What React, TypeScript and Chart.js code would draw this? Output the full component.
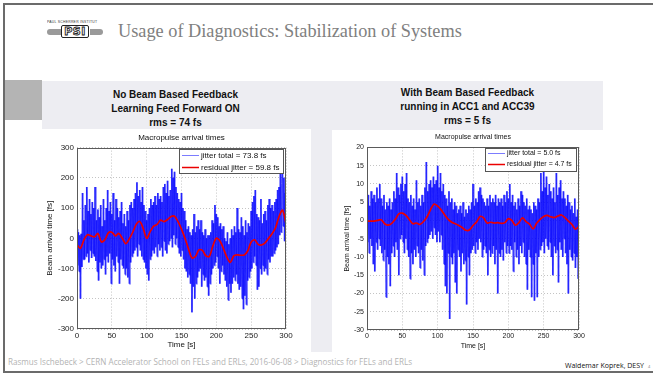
import React, { useEffect, useRef } from "react";
import { Chart, registerables } from "chart.js";

Chart.register(...registerables);

// ---------- data ----------
const SAMPLE_STEP_S = 1; // blue trace: one reading per second
const RED_STEP_S = 5; // red trace: one reading per 5 s

const leftRed = [
  -22, -33, -5, 12, 8, 5, 16, -12, -5, 18, 20, 8, 16, 0, -18, -2, 20, 46, 56, 33,
  0, 22, 40, 46, 60, 55, 62, 72, 73, 55, 30, 0, -35, -65, -60, -38, -40, -58, -60, -25,
  0, -8, -33, -62, -80, -58, -55, -56, -55, -42, -12, -5, -20, -22, -15, 0, 15, 35, 72, 93,
  48,
];

const leftBlue = [
  30, -90, 20, -110, 10, -200, 15, -95, 150, -70,
  60, -70, 110, -60, 170, -50, 90, -80, 130, -40,
  80, -65, 120, -50, 100, -60, 170, -75, 60, -110,
  95, -140, 70, -80, 110, -100, 40, -90, 130, -70,
  60, -120, 100, -60, 160, -80, 90, -50, 120, -150,
  80, -70, 150, -90, 60, -110, 130, -60, 100, -80,
  70, -150, 90, -70, 120, -90, 50, -100, 80, -120,
  40, -100, 90, -130, 60, -150, 110, -80, 120, -60,
  100, -50, 130, -40, 150, -30, 185, -60, 140, -20,
  160, -40, 120, -60, 170, -70, 110, -80, 90, -100,
  60, -120, 80, -140, 100, -70, 130, -60, 110, -40,
  120, -50, 140, -30, 110, -60, 150, -20, 130, -40,
  140, -30, 120, -60, 170, -10, 180, -40, 150, -50,
  190, -20, 140, -10, 160, 0, 230, -30, 200, 10,
  220, -20, 170, 0, 150, -30, 130, -50, 120, -60,
  150, -40, 100, -70, 90, -100, 60, -110, 30, -130,
  40, -120, 20, -150, 10, -245, 30, -160, 80, -200,
  20, -150, 40, -130, 60, -110, 30, -100, 60, -160,
  20, -120, 10, -140, 30, -130, 0, -160, 10, -190,
  10, -150, 20, -120, 60, -100, 50, -90, 110, -80,
  80, -60, 70, -100, 40, -150, 50, -110, 30, -90,
  40, -120, 0, -140, -10, -160, 20, -205, -20, -150,
  0, -180, 30, -150, 10, -130, 40, -140, 20, -120,
  100, -150, 30, -170, 20, -160, 70, -200, 40, -235,
  10, -190, 60, -220, 20, -140, 50, -130, 40, -110,
  90, -100, 120, -80, 140, -60, 160, -90, 80, -170,
  70, -160, 60, -100, 130, -120, 50, -90, 80, -110,
  90, -100, 60, -120, 110, -70, 130, -80, 100, -60,
  110, -60, 90, -50, 120, -40, 130, -30, 160, -20,
  170, 10, 230, 20, 180, 245, 40, 200, -10, 150,
  60,
];

const rightRed = [
  -0.2, -0.2, -0.2, 0, 0.2, -0.9, -1.3, -0.8, 0.3, 1.8, 2.0, 1.4, 0.2, -0.9, -0.7, -1.1, -0.3, 1.0, 3.0, 4.5,
  3.9, 2.9, 1.5, 0.3, -0.5, -0.9, -1.4, -2.0, -2.7, -2.6, -1.4, -0.4, 1.1, 0.7, -0.7, -0.5, -0.7, -0.6, -0.8, -0.6,
  0.5, 0.0, -1.3, -0.6, 0.7, -0.3, -1.0, -2.3, -0.8, 0.3, 1.1, 1.4, 1.0, 0.8, 1.2, 1.5, 0.8, -0.2, -1.1, -2.4,
  -1.6,
];

const rightBlue = [
  5, -6, 7, -9, 4, -5, 8, -7, 6, -12,
  7, -14, 5, -6, 9, -8, 6, -5, 10, -7,
  6, -9, 4, -11, 7, -8, 3, -21, 5, -10,
  4, -12, 6, -18, 3, -9, 5, -7, 8, -10,
  6, -6, 13, -8, 9, -15, 7, -5, 10, -4,
  12, -6, 8, -9, 10, -5, 13, -8, 6, -10,
  5, -16, 7, -9, 4, -12, 6, -8, 3, -10,
  11, -7, 5, -9, 6, -13, 4, -8, 7, -11,
  5, -15, 9, -7, 16, -6, 8, -5, 10, -4,
  11, -3, 9, -5, 12, -2, 10, -4, 11, -6,
  15, -3, 9, -6, 13, -4, 8, -8, 10, -12,
  7, -18, 6, -20, 4, -9, 8, -27, 5, -10,
  6, -12, 3, -9, 5, -17, 4, -20, 2, -8,
  3, -10, 4, -14, 2, -9, 5, -12, 1, -11,
  3, -23, 2, -10, 4, -15, 3, -9, 5, -8,
  10, -7, 4, -9, 6, -6, 5, -8, 8, -5,
  9, -6, 7, -10, 6, -8, 5, -7, 4, -9,
  6, -15, 4, -8, 7, -10, 5, -9, 6, -7,
  5, -12, 7, -8, 4, -20, 6, -9, 5, -10,
  6, -8, 4, -11, 7, -6, 5, -9, 8, -7,
  6, -9, 10, -7, 5, -8, 7, -14, 4, -6,
  5, -10, 3, -8, 6, -12, 4, -7, 8, -9,
  7, -6, 5, -10, 4, -12, 6, -19, 3, -8,
  4, -10, 3, -21, 2, -12, 5, -22, 4, -9,
  3, -21, 6, -10, 5, -8, 13, -7, 8, -6,
  14, -9, 9, -5, 12, -7, 7, -8, 10, -6,
  8, -10, 6, -15, 9, -7, 5, -9, 13, -8,
  7, -17, 9, -6, 11, -8, 6, -10, 8, -5,
  6, -9, 4, -12, 7, -20, 5, -8, 3, -10,
  4, -11, 2, -9, 6, -13, 1, -10, 3, -16,
  -2,
];

const leftLegend = ["jitter total = 73.8 fs", "residual jitter = 59.8 fs"];
const rightLegend = ["jitter total = 5.0 fs", "residual jitter = 4.7 fs"];

const leftHeader = ["No Beam Based Feedback", "Learning Feed Forward ON", "rms = 74 fs"];
const rightHeader = ["With Beam Based Feedback", "running in ACC1 and ACC39", "rms = 5 fs"];

// ---------- chart helpers ----------
const frameLegendPlugin = {
  id: "frameLegend",
  afterDatasetsDraw(chart: any, _args: any, opts: any) {
    const { ctx, chartArea: a } = chart;
    ctx.save();
    ctx.strokeStyle = "#5a5a5a";
    ctx.lineWidth = 1;
    ctx.setLineDash([]);
    ctx.strokeRect(Math.round(a.left) + 0.5, Math.round(a.top) + 0.5, Math.round(a.width) - 1, Math.round(a.height) - 1);
    const fs = opts.fontSize;
    ctx.font = `${fs}px Arial, "Liberation Sans", sans-serif`;
    const ds = chart.data.datasets;
    const labels = ds.map((d: any) => d.label);
    const tw = Math.max(...labels.map((l: string) => ctx.measureText(l).width));
    const sample = 17;
    const w = Math.round(3 + sample + 2 + tw + 4);
    const h = opts.boxH;
    const x0 = Math.round(a.right) - 3 - w;
    const y0 = Math.round(a.top) + 1;
    ctx.fillStyle = "#fff";
    ctx.fillRect(x0, y0, w, h);
    ctx.strokeStyle = "#555";
    ctx.strokeRect(x0 + 0.5, y0 + 0.5, w, h);
    ds.forEach((d: any, i: number) => {
      const y = y0 + opts.rows[i];
      ctx.strokeStyle = d.legendColor;
      ctx.lineWidth = d.legendWidth;
      ctx.beginPath();
      ctx.moveTo(x0 + 3, y + 0.5);
      ctx.lineTo(x0 + 3 + sample, y + 0.5);
      ctx.stroke();
      ctx.fillStyle = "#111";
      ctx.textBaseline = "middle";
      ctx.textAlign = "left";
      ctx.fillText(d.label, x0 + 3 + sample + 2, y + 0.5);
    });
    ctx.restore();
  },
};

type Cfg = {
  red: number[];
  blue: number[];
  legend: string[];
  yMin: number;
  yMax: number;
  yStep: number;
  font: number;
  yAxisW: number;
  xAxisH: number;
  yTitlePad: number;
  xTitlePad: number;
  titlePad: { top: number; bottom: number };
  boxH: number;
  rows: number[];
};

function PlotCanvas({ cfg, left, top, width, height }: { cfg: Cfg; left: number; top: number; width: number; height: number }) {
  const ref = useRef<HTMLCanvasElement | null>(null);
  useEffect(() => {
    const canvas = ref.current;
    if (!canvas) return;
    const blueData = cfg.blue.map((y, i) => ({ x: i * SAMPLE_STEP_S, y }));
    const redData = cfg.red.map((y, i) => ({ x: i * RED_STEP_S, y }));
    const font = { family: 'Arial, "Liberation Sans", sans-serif', size: cfg.font };
    const blueA = "rgba(0,0,255,0.62)";
    const blueB = "rgba(0,0,254,0.62)";
    const chart = new Chart(canvas, {
      type: "line",
      data: {
        datasets: [
          {
            label: cfg.legend[0],
            data: blueData,
            borderColor: blueA,
            borderWidth: 1.6,
            pointRadius: 0,
            tension: 0,
            order: 2,
            segment: {
              borderColor: (c: any) => (c.p0DataIndex % 2 ? blueA : blueB),
            },
            legendColor: "rgba(80,80,255,0.75)",
            legendWidth: 1,
          } as any,
          {
            label: cfg.legend[1],
            data: redData,
            borderColor: "rgb(235,0,0)",
            borderWidth: 1.7,
            pointRadius: 0,
            tension: 0.3,
            order: 1,
            legendColor: "rgb(235,0,0)",
            legendWidth: 1.5,
          } as any,
        ],
      },
      options: {
        animation: false,
        responsive: false,
        devicePixelRatio: 1,
        events: [],
        layout: { padding: 0 },
        plugins: {
          legend: { display: false },
          tooltip: { enabled: false },
          title: {
            display: true,
            text: "Macropulse arrival times",
            color: "#111",
            font: { ...font, weight: "normal" },
            padding: cfg.titlePad,
          },
          frameLegend: { fontSize: cfg.font, boxH: cfg.boxH, rows: cfg.rows },
        } as any,
        scales: {
          x: {
            type: "linear",
            min: 0,
            max: 300,
            ticks: { stepSize: 50, color: "#222", font, padding: 2, maxRotation: 0, autoSkip: false },
            grid: { color: "#c4c4c4", drawTicks: false, lineWidth: 1 },
            border: { display: false, dash: [1, 2] },
            title: { display: true, text: "Time [s]", color: "#111", font, padding: { top: 0, bottom: cfg.xTitlePad } },
            afterFit: (s: any) => {
              s.height = cfg.xAxisH;
            },
          },
          y: {
            type: "linear",
            position: "left",
            min: cfg.yMin,
            max: cfg.yMax,
            ticks: { stepSize: cfg.yStep, color: "#222", font, padding: 3, autoSkip: false },
            grid: { color: "#c4c4c4", drawTicks: false, lineWidth: 1 },
            border: { display: false, dash: [1, 2] },
            title: { display: true, text: "Beam arrival time [fs]", color: "#111", font, padding: { top: cfg.yTitlePad, bottom: 0 } },
            afterFit: (s: any) => {
              s.width = cfg.yAxisW;
            },
          },
          yR: {
            type: "linear",
            position: "right",
            min: 0,
            max: 1,
            ticks: { display: false },
            grid: { display: false, drawTicks: false },
            border: { display: false },
            afterFit: (s: any) => {
              s.width = cfg.yAxisW;
            },
          },
        },
      } as any,
      plugins: [frameLegendPlugin as any],
    });
    return () => chart.destroy();
  }, [cfg]);
  return (
    <canvas
      ref={ref}
      width={width}
      height={height}
      style={{ position: "absolute", left, top, width, height }}
    />
  );
}

const leftCfg: Cfg = {
  red: leftRed,
  blue: leftBlue,
  legend: leftLegend,
  yMin: -300,
  yMax: 300,
  yStep: 100,
  font: 8,
  yAxisW: 35,
  xAxisH: 23,
  yTitlePad: 3,
  xTitlePad: 2,
  titlePad: { top: 5, bottom: 5 },
  boxH: 24,
  rows: [6, 18],
};

const rightCfg: Cfg = {
  red: rightRed,
  blue: rightBlue,
  legend: rightLegend,
  yMin: -30,
  yMax: 20,
  yStep: 5,
  font: 7,
  yAxisW: 32,
  xAxisH: 22,
  yTitlePad: 8,
  xTitlePad: 2,
  titlePad: { top: 5, bottom: 6 },
  boxH: 23,
  rows: [5, 16],
};

const abs = (l: number, t: number, w: number, h: number, extra: React.CSSProperties = {}): React.CSSProperties => ({
  position: "absolute",
  left: l,
  top: t,
  width: w,
  height: h,
  ...extra,
});

export default function App() {
  const panel = "#ededf2";
  const headerStyle: React.CSSProperties = {
    fontFamily: 'Arial, "Liberation Sans", sans-serif',
    fontWeight: "bold",
    fontSize: 10,
    lineHeight: "13.8px",
    textAlign: "center",
    color: "#111",
  };
  return (
    <div style={abs(0, 0, 653, 374, { background: "#fff", overflow: "hidden", position: "fixed" })}>
      {/* slide frame */}
      <div style={abs(3, 3, 650, 2, { background: "#6b6b6b" })} />
      <div style={abs(3, 3, 2, 370, { background: "#6b6b6b" })} />
      <div style={abs(3, 371, 650, 2, { background: "#6b6b6b" })} />

      {/* PSI logo */}
      <div
        style={abs(47, 19, 80, 5, {
          fontFamily: 'Arial, "Liberation Sans", sans-serif',
          fontSize: 4,
          lineHeight: "5px",
          color: "#333",
          letterSpacing: 0.3,
          whiteSpace: "nowrap",
          transformOrigin: "0 0",
          transform: "scaleX(0.85)",
        })}
      >
        PAUL SCHERRER INSTITUT
      </div>
      <div style={abs(47, 29, 14, 6, { background: "#9a9a9a", borderRadius: "3px 0 0 3px" })} />
      <div style={abs(90, 29, 13, 6, { background: "#9a9a9a", borderRadius: "0 3px 3px 0" })} />
      <div
        style={abs(61, 25, 28, 13, {
          border: "1px solid #222",
          boxSizing: "border-box",
          background: "#fff",
          borderRadius: 2,
          fontFamily: '"DejaVu Sans", Arial, sans-serif',
          fontWeight: "bold",
          fontSize: 11,
          lineHeight: "11px",
          textAlign: "center",
          color: "#fff",
          WebkitTextStroke: "0.9px #222",
          letterSpacing: 0.5,
        } as any)}
      >
        PSI
      </div>

      {/* title */}
      <div
        style={abs(118, 20, 520, 22, {
          fontFamily: '"Liberation Serif", "Times New Roman", serif',
          fontSize: 18.3,
          lineHeight: "22px",
          color: "#808080",
          whiteSpace: "nowrap",
        })}
      >
        Usage of Diagnostics: Stabilization of Systems
      </div>

      {/* panels */}
      <div style={abs(5, 80, 37, 40, { background: "#b4b4b4" })} />
      <div style={abs(42, 81, 561, 49, { background: panel })} />
      <div style={abs(311, 129, 21, 223, { background: panel })} />
      <div style={abs(42, 129, 269, 223, { background: "#fff" })} />
      <div style={abs(332, 130, 321, 222, { background: "#fff" })} />

      {/* headers */}
      <div style={abs(42, 88, 267, 42, headerStyle)}>
        {leftHeader.map((t) => (
          <div key={t}>{t}</div>
        ))}
      </div>
      <div style={abs(332, 86, 271, 42, headerStyle)}>
        {rightHeader.map((t) => (
          <div key={t}>{t}</div>
        ))}
      </div>

      {/* charts */}
      <PlotCanvas cfg={leftCfg} left={42} top={128} width={279} height={224} />
      <PlotCanvas cfg={rightCfg} left={335} top={128} width={276} height={224} />

      {/* footer */}
      <div
        style={abs(8, 356, 520, 12, {
          fontFamily: '"Open Sans", sans-serif',
          fontSize: 8.1,
          lineHeight: "12px",
          color: "#b3b3b3",
          whiteSpace: "nowrap",
        })}
      >
        Rasmus Ischebeck &gt; CERN Accelerator School on FELs and ERLs, 2016-06-08 &gt; Diagnostics for FELs and ERLs
      </div>
      <div
        style={abs(565, 360, 85, 12, {
          fontFamily: '"Open Sans", sans-serif',
          fontSize: 7,
          lineHeight: "12px",
          color: "#111",
          whiteSpace: "nowrap",
        })}
      >
        Waldemar Koprek, DESY
      </div>
      <div
        style={abs(648, 362, 6, 10, {
          fontFamily: '"Open Sans", sans-serif',
          fontSize: 4,
          lineHeight: "10px",
          color: "#777",
        })}
      >
        4
      </div>
    </div>
  );
}
